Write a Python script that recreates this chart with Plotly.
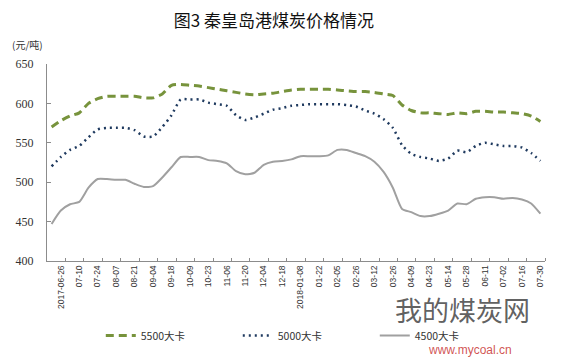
import plotly.graph_objects as go

# category labels shown on the x axis (every other week)
tick_labels = ["2017-06-26", "07-10", "07-24", "08-07", "08-21", "09-04", "09-18",
               "10-09", "10-23", "11-06", "11-20", "12-04", "12-18", "2018-01-08",
               "01-22", "02-05", "02-26", "03-12", "03-26", "04-09", "04-23",
               "05-14", "05-28", "06-11", "07-02", "07-16", "07-30"]

# weekly prices (元/吨)
kcal5500 = [570, 578, 584, 588, 600, 606, 609, 609, 609, 609,
            607, 607, 612, 623, 624, 623, 622, 620, 618, 616,
            614, 612, 611, 612, 613, 615, 617, 618, 618, 618,
            618, 617, 616, 615, 615, 614, 612, 610, 598, 591,
            588, 588, 587, 586, 588, 587, 590, 590, 589, 589,
            588, 587, 584, 577]
kcal5000 = [520, 532, 541, 546, 557, 567, 569, 569, 569, 566,
            558, 558, 570, 585, 605, 605, 605, 601, 599, 597,
            585, 579, 582, 587, 592, 594, 597, 598, 599, 599,
            599, 599, 598, 596, 591, 587, 580, 569, 547, 536,
            532, 530, 527, 530, 540, 538, 546, 550, 548, 546,
            546, 544, 537, 527]
kcal4500 = [447, 464, 472, 475, 493, 504, 504, 503, 503, 498,
            494, 495, 506, 519, 532, 532, 532, 528, 527, 524,
            514, 510, 512, 522, 526, 527, 529, 533, 533, 533,
            534, 541, 541, 537, 533, 526, 513, 493, 466, 462,
            457, 457, 460, 464, 473, 472, 479, 481, 481, 479,
            480, 478, 473, 460]

series_names = ["5500大卡", "5000大卡", "4500大卡"]

n = len(kcal5500)
x = list(range(n))
label_pos = [1 + 2 * i for i in range(len(tick_labels))]
minor_pos = [p + 0.5 for p in label_pos]

fig = go.Figure()
fig.add_trace(go.Scatter(x=x, y=kcal5500, name=series_names[0], mode="lines",
                         line=dict(color="#77933C", width=3, dash="8px,5px", shape="spline", smoothing=0.6)))
fig.add_trace(go.Scatter(x=x, y=kcal5000, name=series_names[1], mode="lines",
                         line=dict(color="#1F3A5F", width=2.5, dash="2px,4px", shape="spline", smoothing=0.6)))
fig.add_trace(go.Scatter(x=x, y=kcal4500, name=series_names[2], mode="lines",
                         line=dict(color="#A0A0A0", width=2, shape="spline", smoothing=0.6)))

# page body has an 8px default margin, so the figure is drawn 8px smaller
fig.update_layout(
    width=553, height=349,
    margin=dict(l=39, r=16, t=56, b=96, autoexpand=False),
    paper_bgcolor="white", plot_bgcolor="white",
    showlegend=True,
    legend=dict(orientation="h", x=0.108, y=-0.378, xanchor="left", yanchor="middle",
                font=dict(family="Noto Sans CJK SC", size=10.5, color="#333"),
                entrywidth=92, entrywidthmode="pixels", itemwidth=30,
                bgcolor="rgba(0,0,0,0)"),
    title=dict(text="图3 秦皇岛港煤炭价格情况", x=0.481, xanchor="center", y=0.964, yanchor="middle",
               font=dict(family="Noto Sans CJK SC", size=17, color="#111")),
    xaxis=dict(range=[-0.5, n - 0.5], tickmode="array", tickvals=label_pos, ticktext=tick_labels,
               tickangle=-90, ticks="", showgrid=False, zeroline=False,
               showline=True, linecolor="#8C8C8C", linewidth=1,
               tickfont=dict(family="Liberation Sans", size=8.5, color="#333"),
               minor=dict(tickmode="array", tickvals=minor_pos, ticks="inside", ticklen=3,
                          tickcolor="#8C8C8C", showgrid=False)),
    yaxis=dict(range=[400, 650], tickvals=[400, 450, 500, 550, 600, 650],
               ticks="inside", ticklen=4, tickcolor="#8C8C8C", showgrid=False, zeroline=False,
               showline=True, linecolor="#8C8C8C", linewidth=1, ticklabelstandoff=10,
               tickfont=dict(family="Liberation Serif", size=12, color="#333")),
)

fig.add_annotation(text="(元/吨)", xref="paper", yref="paper", x=-0.074, y=1.097,
                   xanchor="left", yanchor="middle", showarrow=False,
                   font=dict(family="Noto Sans CJK SC", size=10, color="#333"))

# watermark text
fig.add_annotation(text="我的煤炭网", xref="paper", yref="paper", x=0.835, y=-0.245,
                   xanchor="center", yanchor="middle", showarrow=False,
                   font=dict(family="Noto Sans CJK SC", size=27, color="rgba(70,70,70,0.85)"))
fig.add_annotation(text="www.mycoal.cn", xref="paper", yref="paper", x=0.85, y=-0.452,
                   xanchor="center", yanchor="middle", showarrow=False,
                   font=dict(family="Liberation Sans", size=12, color="rgba(200,50,50,0.85)"))

fig.write_html("out.html")
